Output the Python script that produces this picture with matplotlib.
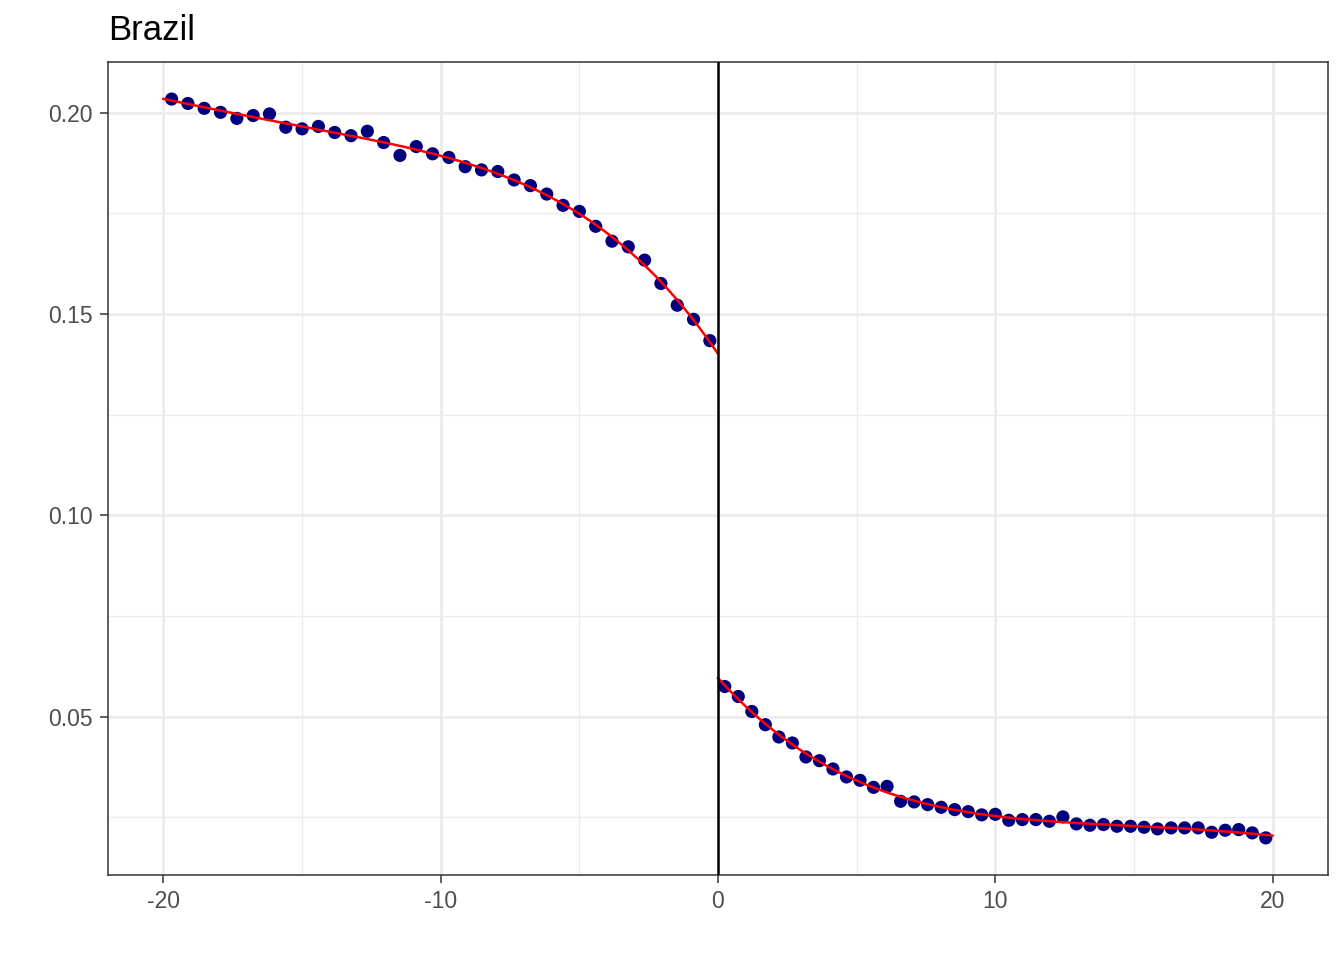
import numpy as np
import matplotlib
matplotlib.use("Agg")
import matplotlib.pyplot as plt

title = "Brazil"
n_left, n_right = 34, 41
left_y = [0.2034, 0.2023, 0.2011, 0.2001, 0.1986, 0.1993, 0.1997, 0.1964, 0.1960,
          0.1966, 0.1951, 0.1943, 0.1954, 0.1926, 0.1894, 0.1916, 0.1898, 0.1889,
          0.1866, 0.1858, 0.1854, 0.1833, 0.1819, 0.1798, 0.1770, 0.1755, 0.1718,
          0.1681, 0.1667, 0.1634, 0.1576, 0.1522, 0.1487, 0.1434]
right_y = [0.05751, 0.05503, 0.05131, 0.04802, 0.04497, 0.04348, 0.04001, 0.03909,
           0.03703, 0.03505, 0.03421, 0.03247, 0.03272, 0.02900, 0.02885, 0.02818,
           0.02751, 0.02694, 0.02644, 0.02563, 0.02577, 0.02429, 0.02446, 0.02446,
           0.02404, 0.02513, 0.02339, 0.02305, 0.02322, 0.02280, 0.02280, 0.02255,
           0.02215, 0.02240, 0.02240, 0.02240, 0.02131, 0.02181, 0.02198, 0.02116,
           0.01992]
x_ticks = [-20, -10, 0, 10, 20]
x_tick_labels = ["-20", "-10", "0", "10", "20"]
y_ticks = [0.05, 0.10, 0.15, 0.20]
y_tick_labels = ["0.05", "0.10", "0.15", "0.20"]

wl = 20 / n_left
wr = 20 / n_right
left_x = -20 + wl / 2 + wl * np.arange(n_left)
right_x = wr / 2 + wr * np.arange(n_right)

# polynomial (order 4) fits on each side, as in rdplot
pl = np.polyfit(left_x, left_y, 4)
pr = np.polyfit(right_x, right_y, 4)
gl = np.linspace(-20, 0, 300)
gr = np.linspace(0, 20, 300)

plt.rcParams['font.family'] = ['Liberation Sans', 'DejaVu Sans']
fig = plt.figure(figsize=(13.44, 9.6), dpi=100)
ax = fig.add_axes([108/1344, 1-875/960, (1328-108)/1344, (875-62)/960])

ax.set_xlim(-22, 22)
ax.set_ylim(0.0107, 0.2126)

for v in [-15, -5, 5, 15]:
    ax.axvline(v, color="#EBEBEB", lw=1.0, zorder=0)
for v in [0.025, 0.075, 0.125, 0.175]:
    ax.axhline(v, color="#EBEBEB", lw=1.0, zorder=0)
for v in x_ticks:
    ax.axvline(v, color="#EBEBEB", lw=1.9, zorder=0)
for v in y_ticks:
    ax.axhline(v, color="#EBEBEB", lw=1.9, zorder=0)

ax.scatter(left_x, left_y, s=90, color="#00007F", edgecolors="none", zorder=3)
ax.scatter(right_x, right_y, s=90, color="#00007F", edgecolors="none", zorder=3)
ax.plot(gl, np.polyval(pl, gl), color="red", lw=1.8, zorder=4)
ax.plot(gr, np.polyval(pr, gr), color="red", lw=1.8, zorder=4)
ax.axvline(0, color="black", lw=1.8, zorder=5)

ax.set_xticks(x_ticks)
ax.set_xticklabels(x_tick_labels)
ax.set_yticks(y_ticks)
ax.set_yticklabels(y_tick_labels)
ax.tick_params(axis='both', length=6, width=1.1, color="#333333",
               labelcolor="#4D4D4D", labelsize=16.5, pad=5)
for sp in ax.spines.values():
    sp.set_color("#333333")
    sp.set_linewidth(1.1)

fig.text(108/1344, 1-40/960, title, fontsize=25, va="baseline", ha="left", color="black")

fig.savefig("out.png", dpi=100)
